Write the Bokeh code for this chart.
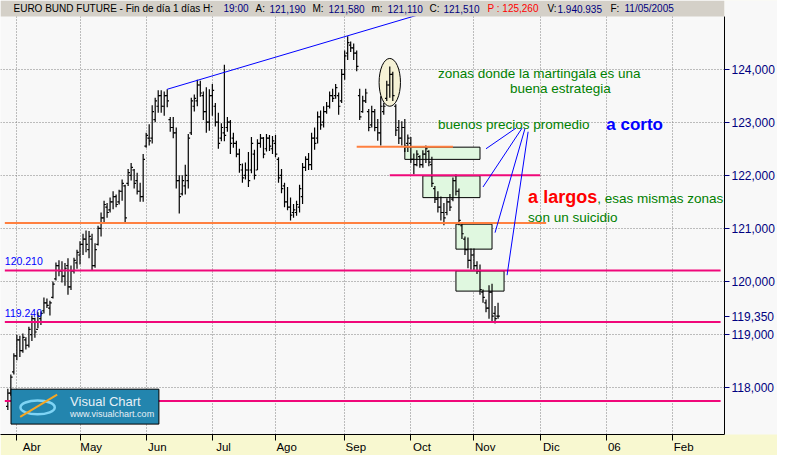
import pandas as pd
from bokeh.plotting import figure
from bokeh.models import Range1d, FixedTicker, Label, BoxAnnotation, ColumnDataSource
from bokeh.embed import file_html
from bokeh.resources import INLINE

# ---------------- data ----------------
first_day = "2005-03-29"
last_day = "2005-11-11"

high = [117.98, 118.25, 118.65, 119.00, 118.98, 119.02, 118.95, 119.15, 119.36, 119.32,
        119.42, 119.44, 119.70, 119.68, 119.64, 120.00, 120.36, 120.40, 120.38, 120.35,
        120.44, 120.30, 120.45, 120.60, 120.76, 120.90, 120.96, 120.95, 120.90, 120.72,
        121.05, 121.30, 121.52, 121.48, 121.58, 121.70, 121.64, 121.73, 121.92, 121.82,
        122.12, 122.23, 122.12, 122.05, 121.86, 122.40, 122.80, 122.96, 123.32, 123.46,
        123.60, 123.60, 123.58, 123.62, 123.10, 123.10, 122.90, 122.00, 122.00, 122.20,
        122.78, 123.46, 123.52, 123.80, 123.78, 123.58, 123.66, 123.62, 123.72, 123.36,
        123.18, 122.98, 124.08, 123.10, 123.04, 122.80, 122.65, 122.50, 122.22, 122.24,
        122.44, 122.72, 122.48, 122.68, 122.78, 122.72, 122.78, 122.76, 122.74, 122.76,
        122.34, 122.12, 121.86, 121.78, 121.58, 121.46, 121.52, 121.82, 122.23, 122.36,
        122.42, 122.80, 122.90, 123.20, 123.22, 123.30, 123.38, 123.58, 123.63, 123.72,
        123.56, 124.00, 124.35, 124.62, 124.52, 124.48, 124.35, 123.63, 123.50, 123.63,
        123.25, 123.31, 123.25, 123.06, 123.49, 123.36, 123.78, 124.05, 123.95, 123.34,
        123.04, 123.02, 123.06, 122.77, 122.72, 122.41, 122.47, 122.38, 122.47, 122.56,
        122.47, 122.35, 121.80, 121.70, 121.60, 121.48, 121.57, 121.65, 121.96, 122.02,
        121.75, 121.10, 120.85, 120.83, 120.62, 120.62, 120.38, 120.32, 119.85, 119.66,
        119.93, 119.96, 119.54, 119.60]
low = [117.58, 117.85, 118.25, 118.52, 118.58, 118.66, 118.72, 118.76, 118.88, 118.94,
       119.12, 119.18, 119.40, 119.50, 119.36, 119.68, 120.02, 120.10, 119.98, 119.92,
       119.75, 119.84, 120.15, 120.24, 120.32, 120.50, 120.55, 120.44, 120.20, 120.26,
       120.68, 120.85, 121.10, 121.20, 121.30, 121.36, 121.40, 121.45, 121.52, 121.12,
       121.80, 121.90, 121.75, 121.64, 121.50, 121.50, 122.52, 122.56, 122.60, 123.00,
       123.18, 123.18, 123.12, 123.28, 122.82, 122.70, 121.75, 121.28, 121.62, 121.64,
       121.75, 122.76, 123.20, 123.30, 123.48, 123.04, 122.80, 122.84, 123.12, 122.92,
       122.50, 122.64, 122.64, 122.82, 122.40, 122.52, 122.34, 122.05, 121.86, 121.92,
       121.78, 122.04, 121.92, 122.10, 122.52, 122.32, 122.45, 122.46, 122.40, 122.34,
       121.86, 121.66, 121.40, 121.34, 121.15, 121.20, 121.24, 121.30, 121.46, 122.08,
       122.10, 122.10, 122.48, 122.60, 122.86, 122.90, 123.16, 123.26, 123.38, 123.44,
       123.14, 123.36, 123.80, 124.17, 124.32, 124.17, 123.96, 123.04, 123.18, 123.36,
       122.83, 122.90, 122.83, 122.65, 122.56, 123.14, 123.40, 123.46, 123.40, 122.74,
       122.59, 122.56, 122.44, 122.44, 122.23, 122.02, 122.17, 122.14, 122.14, 122.23,
       122.17, 121.78, 121.48, 121.30, 121.15, 121.06, 121.25, 121.33, 121.51, 121.62,
       121.06, 120.80, 120.50, 120.25, 120.22, 120.20, 120.14, 119.75, 119.60, 119.42,
       119.30, 119.24, 119.21, 119.30]
opn = [117.65, 117.90, 118.30, 118.60, 118.90, 118.70, 118.90, 118.80, 119.00, 119.30,
       119.10, 119.30, 119.45, 119.60, 119.50, 119.70, 120.05, 120.30, 120.20, 120.10,
       120.30, 119.90, 120.20, 120.35, 120.50, 120.70, 120.80, 120.60, 120.80, 120.30,
       120.70, 121.00, 121.20, 121.40, 121.35, 121.50, 121.60, 121.50, 121.70, 121.80,
       121.85, 122.00, 122.10, 121.90, 121.70, 121.60, 122.55, 122.70, 122.70, 123.05,
       123.30, 123.50, 123.30, 123.50, 123.05, 122.90, 122.80, 121.90, 121.65, 121.80,
       121.90, 122.80, 123.30, 123.40, 123.70, 123.50, 123.20, 123.00, 123.50, 123.30,
       123.00, 122.70, 122.80, 122.90, 123.00, 122.70, 122.60, 122.40, 122.10, 122.00,
       122.10, 122.10, 122.40, 122.10, 122.60, 122.70, 122.50, 122.70, 122.50, 122.60,
       122.30, 122.00, 121.80, 121.50, 121.40, 121.30, 121.30, 121.40, 121.60, 122.15,
       122.30, 122.20, 122.70, 122.70, 123.10, 123.00, 123.20, 123.30, 123.50, 123.50,
       123.50, 123.40, 123.90, 124.30, 124.45, 124.40, 124.30, 123.50, 123.20, 123.40,
       123.20, 122.95, 123.20, 122.90, 122.80, 123.20, 123.45, 123.70, 123.90, 123.30,
       122.90, 122.70, 122.90, 122.60, 122.60, 122.30, 122.20, 122.35, 122.20, 122.40,
       122.45, 122.20, 121.75, 121.55, 121.40, 121.30, 121.30, 121.50, 121.55, 121.90,
       121.70, 121.05, 120.80, 120.60, 120.40, 120.50, 120.30, 120.20, 119.80, 119.60,
       119.50, 119.80, 119.40, 119.35]
cls = [117.90, 118.20, 118.60, 118.90, 118.70, 118.95, 118.80, 119.10, 119.30, 119.05,
       119.35, 119.40, 119.60, 119.55, 119.60, 119.95, 120.30, 120.20, 120.10, 120.25,
       119.90, 120.20, 120.40, 120.55, 120.70, 120.80, 120.70, 120.85, 120.30, 120.60,
       121.00, 121.20, 121.45, 121.30, 121.50, 121.60, 121.45, 121.70, 121.85, 121.20,
       122.05, 122.15, 121.85, 121.70, 121.60, 122.30, 122.75, 122.65, 123.20, 123.40,
       123.50, 123.30, 123.50, 123.40, 122.90, 122.80, 121.90, 121.60, 121.90, 122.00,
       122.70, 123.40, 123.45, 123.70, 123.55, 123.20, 123.00, 123.50, 123.60, 123.00,
       122.60, 122.90, 122.75, 123.00, 122.60, 122.60, 122.40, 122.20, 121.95, 122.10,
       121.90, 122.60, 122.00, 122.60, 122.70, 122.40, 122.70, 122.55, 122.65, 122.40,
       121.95, 121.75, 121.50, 121.40, 121.25, 121.35, 121.45, 121.75, 122.15, 122.30,
       122.20, 122.70, 122.60, 123.10, 122.95, 123.20, 123.30, 123.50, 123.45, 123.65,
       123.30, 123.90, 124.25, 124.50, 124.40, 124.30, 124.05, 123.10, 123.40, 123.55,
       122.90, 123.20, 122.90, 122.80, 123.30, 123.30, 123.70, 123.90, 123.50, 122.85,
       122.70, 122.90, 122.55, 122.70, 122.30, 122.20, 122.40, 122.20, 122.40, 122.50,
       122.25, 121.85, 121.55, 121.40, 121.30, 121.20, 121.50, 121.40, 121.90, 121.70,
       121.15, 120.90, 120.60, 120.40, 120.50, 120.30, 120.20, 119.85, 119.70, 119.50,
       119.80, 119.35, 119.30, 119.35]

month_keys = ["2005-04", "2005-05", "2005-06", "2005-07", "2005-08", "2005-09",
              "2005-10", "2005-11", "2005-12", "2006-01", "2006-02"]
month_labels = ["Abr", "May", "Jun", "Jul", "Ago", "Sep", "Oct", "Nov", "Dic", "06", "Feb"]

y_ticks = [118, 119, 120, 121, 122, 123, 124]
y_tick_labels = ["118,000", "119,000", "120,000", "121,000", "122,000", "123,000", "124,000"]

# horizontal support / resistance lines
hl_start = ["2005-03-28", "2005-03-28", "2005-03-28", "2005-09-22", "2005-03-28", "2005-09-07"]
hl_end = ["2006-02-23", "2006-02-23", "2006-02-23", "2005-12-01", "2005-12-05", "2005-10-21"]
hl_value = [120.21, 119.24, 117.75, 122.00, 121.10, 122.54]
hl_color = ["#F0087A", "#F0087A", "#F0087A", "#F0087A", "#FF8040", "#FF8040"]

# green zones
box_start = ["2005-09-29", "2005-10-07", "2005-10-24", "2005-10-24"]
box_end = ["2005-11-03", "2005-11-03", "2005-11-09", "2005-11-15"]
box_top = [122.53, 121.99, 121.08, 120.20]
box_bottom = [122.30, 121.58, 120.61, 119.82]

# trend line
trend_dates = ["2005-06-10", "2005-10-11"]
trend_values = [123.62, 125.08]

# pointer lines from the text to the zones
ptr_start = ["2005-11-21", "2005-11-23", "2005-11-24", "2005-11-25"]
ptr_start_val = [122.89, 122.89, 122.89, 122.82]
ptr_end = ["2005-11-07", "2005-11-04", "2005-11-10", "2005-11-16"]
ptr_end_val = [122.50, 121.78, 120.92, 120.12]

# highlighted ellipse
ell_date = "2005-09-22"
ell_value = 123.75
ell_days = 7.1
ell_span = 0.9

# annotation texts
ann_text = ["zonas  donde la martingala es una", "buena  estrategia", "buenos precios promedio",
            "a corto", "a largos", ", esas mismas zonas", "son un suicidio", "120.210", "119.240"]
ann_date = ["2005-10-14", "2005-11-17", "2005-10-14", "2006-01-02", "2005-11-25",
            "2005-12-28", "2005-11-25", "2005-03-28", "2005-03-28"]
ann_value = [123.92, 123.63, 122.96, 122.95, 121.60, 121.57, 121.21, 120.38, 119.40]
ann_color = ["#008000", "#008000", "#008000", "#0000FF", "#FF0000", "#008000", "#008000",
             "#0000FF", "#0000FF"]
ann_size = ["13.5px", "13.5px", "13.5px", "17px", "18px", "13.5px", "13.5px", "10.5px", "10.5px"]
ann_style = ["normal", "normal", "normal", "bold", "bold", "normal", "normal", "normal", "normal"]

last_price = 119.35
last_price_label = "119,350"

# header texts
hdr_text = ["EURO BUND FUTURE - Fin de día 1 días  H:", "19:00", "A:", "121,190", "M:", "121,580",
            "m:", "121,110", "C:", "121,510", "P : 125,260", "V:", "1.940.935", "F:", "11/05/2005"]
hdr_x = [13, 223, 255, 269, 312, 328, 371, 387, 429, 443, 487, 547, 557, 610, 624]
hdr_color = ["black", "#000080", "black", "#000080", "black", "#000080", "black", "#000080",
             "black", "#000080", "#FF0000", "black", "#000080", "black", "#000080"]

# ---------------- build ----------------
cal = pd.bdate_range("2005-03-24", "2006-03-10")
pos = {d.strftime("%Y-%m-%d"): i for i, d in enumerate(cal)}
data_dates = pd.bdate_range(first_day, last_day)
n = min(len(data_dates), len(high))
xs = [pos[d.strftime("%Y-%m-%d")] for d in data_dates[:n]]

month_pos = []
for key in month_keys:
    for i, d in enumerate(cal):
        if d.strftime("%Y-%m") == key:
            month_pos.append(i)
            break

FW = 724          # frame width
CH = 418          # chart height (px) below header band
HDR = 16          # header band inside frame
FH = CH + HDR
Y0, Y1 = 117.12, 124.99
Y_TOP = Y1 + HDR * (Y1 - Y0) / CH

p = figure(frame_width=FW, frame_height=FH,
           x_range=Range1d(0.56, 241.3), y_range=Range1d(Y0, Y_TOP),
           y_axis_location="right", toolbar_location=None, output_backend="svg",
           min_border_left=0, min_border_right=0, min_border_top=0, min_border_bottom=0,
           background_fill_color="#F8F8F8", border_fill_color="#F8F8D0",
           outline_line_color=None)

# axes
xa = p.xaxis[0]
xa.ticker = FixedTicker(ticks=month_pos)
xa.major_label_overrides = {t: "\u00a0" * (2 * len(l) + 1) + l for t, l in zip(month_pos, month_labels)}
xa.major_tick_out = 6
xa.major_tick_in = 0
xa.minor_tick_out = 0
xa.minor_tick_in = 0
xa.axis_line_color = "black"
xa.major_tick_line_color = "black"
xa.major_label_standoff = 0
xa.major_label_text_font = "Liberation Sans"
xa.major_label_text_font_size = "11.5px"
xa.major_label_text_color = "black"

ya = p.yaxis[0]
ya.ticker = FixedTicker(ticks=y_ticks + [last_price])
overrides = {t: l for t, l in zip(y_ticks, y_tick_labels)}
overrides[last_price] = last_price_label
ya.major_label_overrides = overrides
ya.bounds = (Y0, Y1)
ya.major_tick_out = 5
ya.major_tick_in = 0
ya.minor_tick_out = 0
ya.minor_tick_in = 0
ya.axis_line_color = "black"
ya.major_tick_line_color = "#000080"
ya.major_label_standoff = 2
ya.major_label_text_font = "Liberation Sans"
ya.major_label_text_font_size = "12px"
ya.major_label_text_color = "#000080"
ya.background_fill_color = "#F8F8F8"
ya.background_fill_alpha = 1.0

p.xgrid[0].ticker = FixedTicker(ticks=month_pos)
p.ygrid[0].ticker = FixedTicker(ticks=y_ticks)
for g in (p.xgrid[0], p.ygrid[0]):
    g.grid_line_color = "#808080"
    g.grid_line_dash = "1 2"
    g.grid_line_width = 1

# ellipse and zones (behind bars)
p.ellipse(x=[pos[ell_date]], y=[ell_value], width=[ell_days], height=[ell_span],
          fill_color="#F6F2D6", line_color="black", line_width=1)
p.quad(left=[pos[d] for d in box_start], right=[pos[d] for d in box_end],
       top=box_top, bottom=box_bottom, fill_color="#E0F8E0", line_color="black", line_width=1)

# OHLC bars
src = ColumnDataSource(dict(x=xs, high=high[:n], low=low[:n], open=opn[:n], close=cls[:n],
                            xl=[x - 0.6 for x in xs], xr=[x + 0.6 for x in xs]))
p.segment(x0="x", y0="low", x1="x", y1="high", source=src, line_color="black", line_width=1.2)
p.segment(x0="xl", y0="open", x1="x", y1="open", source=src, line_color="black", line_width=1.2)
p.segment(x0="x", y0="close", x1="xr", y1="close", source=src, line_color="black", line_width=1.2)

# horizontal lines
p.segment(x0=[pos[d] for d in hl_start], y0=hl_value, x1=[pos[d] for d in hl_end], y1=hl_value,
          line_color=hl_color, line_width=2)

# trend line & pointers
p.line(x=[pos[d] for d in trend_dates], y=trend_values, line_color="#0000FF", line_width=1)
p.segment(x0=[pos[d] for d in ptr_start], y0=ptr_start_val, x1=[pos[d] for d in ptr_end],
          y1=ptr_end_val, line_color="#0000FF", line_width=1)

# annotation texts
for t, d, v, c, s, st in zip(ann_text, ann_date, ann_value, ann_color, ann_size, ann_style):
    p.add_layout(Label(x=pos[d], y=v, text=t, text_color=c, text_font="Liberation Sans",
                       text_font_size=s, text_font_style=st, text_baseline="middle",
                       text_align="left"))

# logo
p.add_layout(BoxAnnotation(left=10.5, right=158.4, bottom=10.4, top=45.3,
                           left_units="screen", right_units="screen",
                           bottom_units="screen", top_units="screen",
                           fill_color="#2385AE", fill_alpha=1.0,
                           line_color="black", line_alpha=1.0, line_width=1))
p.ellipse(x=[12.9], y=[117.63], width=[11.4], height=[0.26], fill_color=None,
          line_color="#7FD4F5", line_width=2.5, level="overlay")
p.line(x=[7.1, 19.4], y=[117.45, 117.87], line_color="#F5A623", line_width=2, level="overlay")
p.add_layout(Label(x=69.6, y=33, x_units="screen", y_units="screen", text="Visual Chart",
                   text_color="#E8F0F6", text_font="Liberation Sans", text_font_size="13px",
                   text_baseline="middle", level="overlay"))
p.add_layout(Label(x=69.6, y=20.5, x_units="screen", y_units="screen", text="www.visualchart.com",
                   text_color="#E8F0F6", text_font="Liberation Sans", text_font_size="9px",
                   text_baseline="middle", level="overlay"))

# header band (inside the frame, on top)
p.add_layout(BoxAnnotation(left=0, right=FW, bottom=FH - HDR, top=FH,
                           left_units="screen", right_units="screen",
                           bottom_units="screen", top_units="screen",
                           fill_color="#D4D0C8", fill_alpha=1.0, line_color=None))
for t, x, c in zip(hdr_text, hdr_x, hdr_color):
    p.add_layout(Label(x=x, y=FH - HDR / 2, x_units="screen", y_units="screen", text=t,
                       text_color=c, text_font="Liberation Sans", text_font_size="10px",
                       text_baseline="middle"))

open("out.html", "w").write(file_html(p, INLINE))
